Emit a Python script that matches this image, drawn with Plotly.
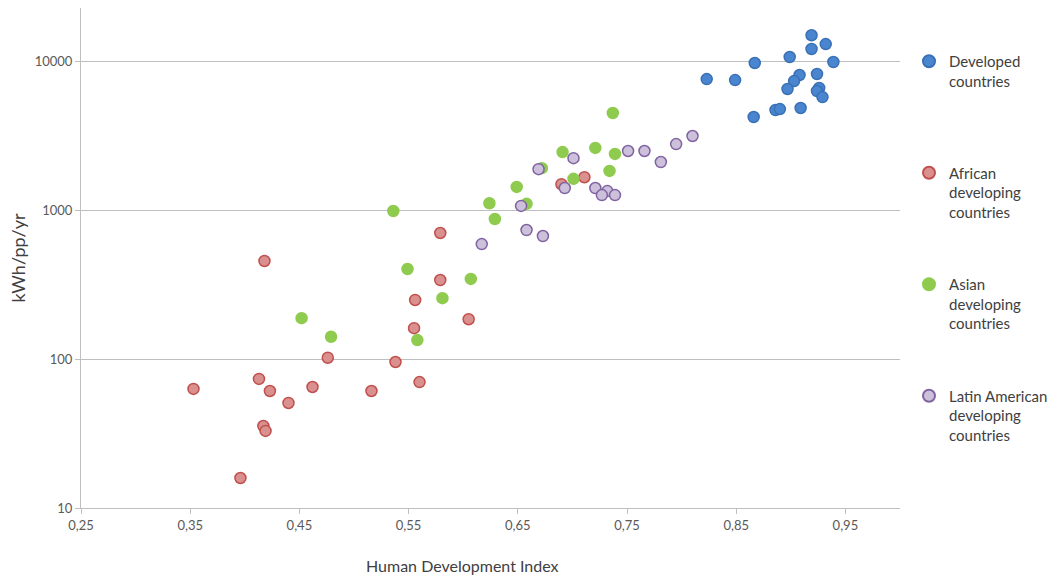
import plotly.graph_objects as go

# Developed countries
dev_hdi = [0.919, 0.919, 0.932, 0.899, 0.867, 0.939, 0.924, 0.908, 0.903, 0.897,
           0.926, 0.924, 0.929, 0.823, 0.849, 0.886, 0.890, 0.909, 0.866]
dev_kwh = [14900, 12050, 13000, 10640, 9700, 9850, 8180, 8060, 7340, 6490,
           6590, 6290, 5730, 7570, 7450, 4690, 4760, 4840, 4210]

# African developing countries
afr_hdi = [0.418, 0.353, 0.413, 0.423, 0.440, 0.462, 0.476, 0.516, 0.538, 0.560,
           0.417, 0.419, 0.396, 0.579, 0.579, 0.556, 0.555, 0.605, 0.690, 0.711]
afr_kwh = [455, 63, 73.5, 61, 50.7, 64.9, 102, 61, 95.5, 70,
           35.5, 32.9, 15.9, 701, 339, 249, 161, 185, 1490, 1660]

# Asian developing countries
asia_hdi = [0.737, 0.691, 0.721, 0.739, 0.734, 0.701, 0.672, 0.649, 0.658, 0.624,
            0.629, 0.536, 0.549, 0.607, 0.581, 0.452, 0.479, 0.558]
asia_kwh = [4480, 2450, 2610, 2380, 1830, 1620, 1910, 1430, 1100, 1110,
            871, 985, 402, 345, 256, 188, 141, 134]

# Latin American developing countries
lat_hdi = [0.701, 0.669, 0.751, 0.766, 0.795, 0.810, 0.781, 0.693, 0.721, 0.732,
           0.727, 0.739, 0.653, 0.658, 0.673, 0.617]
lat_kwh = [2230, 1880, 2490, 2490, 2770, 3140, 2100, 1405, 1405, 1340,
           1260, 1260, 1065, 734, 669, 591]

x_ticks = [0.25, 0.35, 0.45, 0.55, 0.65, 0.75, 0.85, 0.95]
y_ticks = [10, 100, 1000, 10000]
y_tick_labels = ["10", "100", "1000", "10000"]

series = [
    ("Developed<br>countries<br> ", dev_hdi, dev_kwh, "#4A86CF", "#3A70B5"),
    ("African<br>developing<br>countries", afr_hdi, afr_kwh, "#D9908E", "#C0504D"),
    ("Asian<br>developing<br>countries", asia_hdi, asia_kwh, "#8FCB4F", "#8FCB4F"),
    ("Latin American<br>developing<br>countries", lat_hdi, lat_kwh, "#CCC0DA", "#8064A2"),
]

fig = go.Figure()
for i, (name, xs, ys, fill, edge) in enumerate(series):
    fig.add_trace(go.Scatter(
        x=xs, y=ys, mode="markers", name=name, legendgroup=str(i),
        marker=dict(size=11, color=fill, line=dict(color=edge, width=1.5)),
    ))

font_family = "Lato, Open Sans, sans-serif"
fig.update_layout(
    width=1054, height=575,
    margin=dict(l=81, r=154, t=8, b=67),
    plot_bgcolor="white", paper_bgcolor="white",
    separators=", ",
    font=dict(family=font_family, color="#595959", size=13),
    legend=dict(
        xref="container", yref="container",
        x=909 / 1054, y=1 - 45 / 575, xanchor="left", yanchor="top",
        font=dict(size=15, color="#404040"),
        valign="top", tracegroupgap=50, itemsizing="constant",
        maxheight=560,
    ),
    xaxis=dict(
        range=[0.25, 1.0], tickvals=x_ticks, tickformat=".2f",
        showgrid=False, zeroline=False, automargin=False,
        showline=True, linecolor="#BFBFBF", linewidth=1,
        ticks="outside", ticklen=5, tickcolor="#BFBFBF",
    ),
    yaxis=dict(
        type="log", range=[1, 4.356], tickvals=y_ticks, ticktext=y_tick_labels,
        showgrid=True, gridcolor="#BFBFBF", gridwidth=1, automargin=False,
        showline=True, linecolor="#BFBFBF", linewidth=1,
        ticks="outside", ticklen=5, tickcolor="#BFBFBF",
        title=dict(text="kWh/pp/yr", font=dict(size=18, color="#404040"), standoff=4),
    ),
    annotations=[dict(
        text="Human Development Index", xref="paper", yref="paper",
        x=(462 - 81) / 819, y=-57 / 500, xanchor="center", yanchor="middle",
        showarrow=False, font=dict(size=16, color="#404040"),
    )],
)

fig.write_html("out.html", config={"displayModeBar": False},
               post_script="document.body.style.margin='0';")
